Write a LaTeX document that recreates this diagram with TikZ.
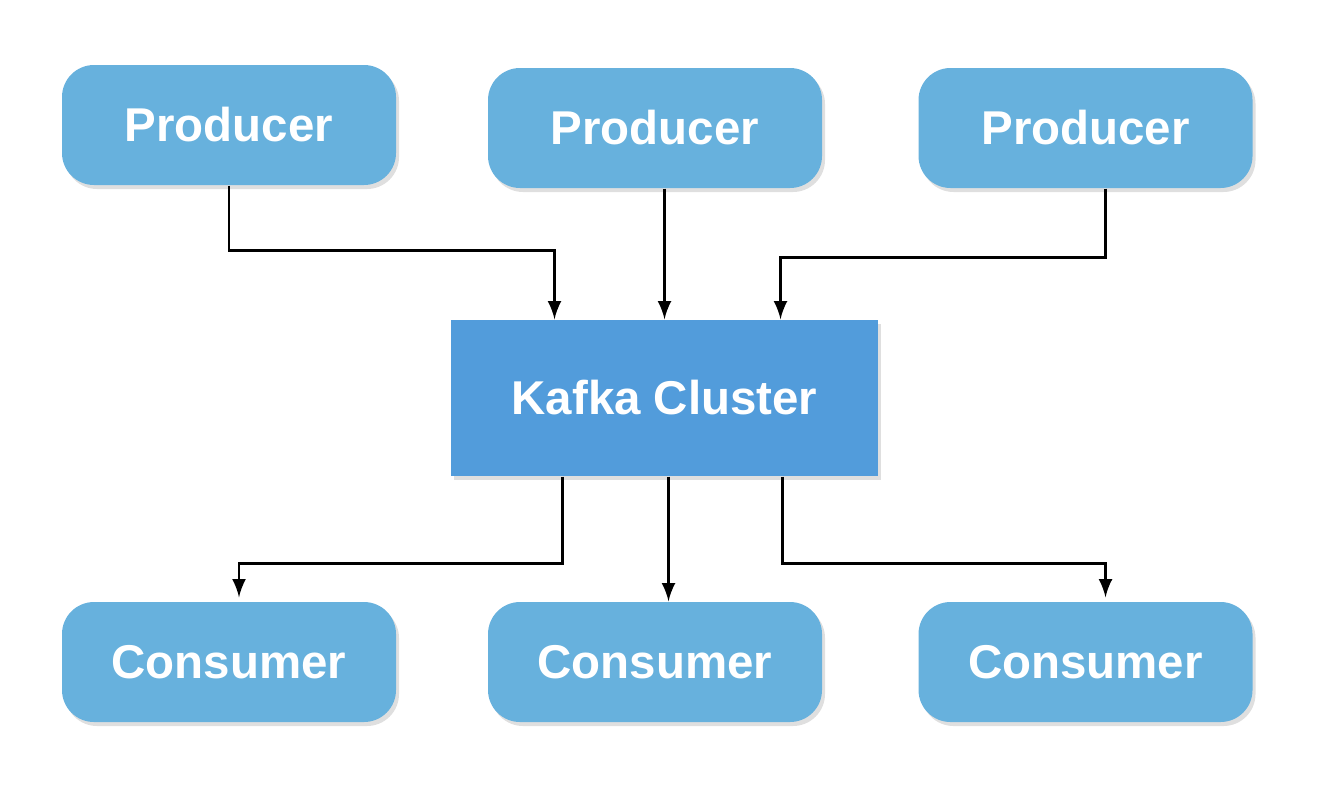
\documentclass[tikz,border=0pt]{standalone}
\usepackage{fontspec}
\setmainfont{Liberation Sans}
\usetikzlibrary{calc,shadows}
\definecolor{boxblue}{HTML}{67B1DD}
\definecolor{kafkablue}{HTML}{529CDB}
\tikzset{
  client/.style={rounded corners=0.32cm,fill=boxblue,minimum width=3.34cm,minimum height=1.2cm,
    text=white,font=\fontsize{13.5}{16}\selectfont\bfseries,drop shadow={opacity=0.25,shadow xshift=0.03cm,shadow yshift=-0.04cm}},
  cluster/.style={fill=kafkablue,minimum width=4.27cm,minimum height=1.56cm,
    text=white,font=\fontsize{13.5}{16}\selectfont\bfseries,drop shadow={opacity=0.25,shadow xshift=0.03cm,shadow yshift=-0.04cm}},
  link/.style={->,thick,>=latex}
}
\begin{document}
\begin{tikzpicture}
\useasboundingbox (0,0) rectangle (13.26,7.9);

%producers
\node[client] (p1) at (2.29,6.65) {Producer};
\node[client] (p2) at (6.55,6.62) {Producer};
\node[client] (p3) at (10.855,6.62) {Producer};

%cluster
\node[cluster] (kafka) at (6.645,3.92) {Kafka Cluster};

%consumers
\node[client] (c1) at (2.29,1.28) {Consumer};
\node[client] (c2) at (6.55,1.28) {Consumer};
\node[client] (c3) at (10.855,1.28) {Consumer};

%bends
\coordinate (k1) at ($(kafka.north)+(-1.1,0)$);
\coordinate (k2) at ($(kafka.north)+(0,0)$);
\coordinate (k3) at ($(kafka.north)+(1.16,0)$);
\coordinate (b1) at ($(kafka.south)+(-1.02,0)$);
\coordinate (b2) at ($(kafka.south)+(0.04,0)$);
\coordinate (b3) at ($(kafka.south)+(1.18,0)$);

\draw[link] (p1.south) -- ++(0,-0.65) -| (k1);
\draw[link] (p2.south -| k2) -- (k2);
\draw[link] ($(p3.south)+(0.2,0)$) -- ++(0,-0.69) -| (k3);

\draw[link] (b1) -- ++(0,-0.87) -| ($(c1.north)+(0.1,0.04)$);
\draw[link] (b2) -- (b2 |- c2.north);
\draw[link] (b3) -- ++(0,-0.87) -| ($(c3.north)+(0.2,0.04)$);
\end{tikzpicture}
\end{document}
